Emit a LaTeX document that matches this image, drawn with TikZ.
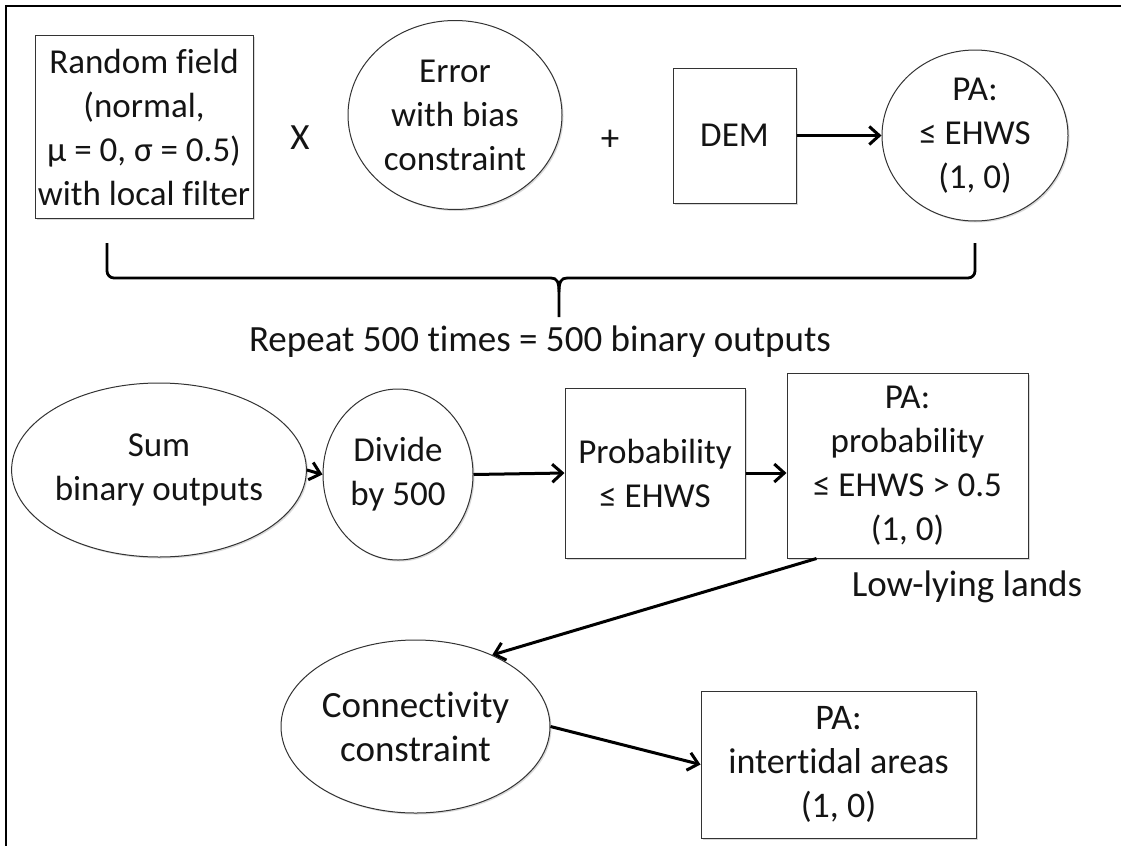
\documentclass[tikz,border=0pt]{standalone}
\usepackage{fontspec}
\setmainfont{Carlito}[Ligatures=NoCommon]
\usetikzlibrary{shapes.geometric,arrows.meta,shadows}

\tikzset{
  txt/.style={font=\fontsize{35}{44}\selectfont, text=black!92, align=center, inner sep=0pt},
  bigtxt/.style={txt, font=\fontsize{37}{44}\selectfont},
  shade/.style={drop shadow={shadow xshift=1.5pt, shadow yshift=-1.5pt, opacity=0.25, fill=black!60}},
  boxnode/.style={txt, rectangle, draw=black!80, line width=1pt, fill=white, shade},
  ovalnode/.style={txt, ellipse, draw=black!80, line width=1pt, fill=white, shade},
  flow/.style={line width=3pt, black, -{Straight Barb[length=10pt,width=18pt]}},
  bracket/.style={line width=2.8pt, black, rounded corners=7pt}
}

\begin{document}
\begin{tikzpicture}[x=1pt,y=-1pt]
  \useasboundingbox (0,0) rectangle (1121,846);

  % open frame: top and left edges only
  \draw[line width=2pt, black] (1121,6) -- (6,6) -- (6,846);

  % first row: one realisation
  \node[boxnode, minimum width=218pt, minimum height=183pt] (rf) at (144,127)
    {Random field\\(normal,\\μ = 0, σ = 0.5)\\with local filter};
  \node[bigtxt] (times) at (300,138) {X};
  \node[ovalnode, minimum width=214pt, minimum height=189pt] (err) at (455,115)
    {Error\\with bias\\constraint};
  \node[bigtxt] (plus) at (610,140) {+};
  \node[boxnode, minimum width=123pt, minimum height=135pt] (dem) at (734.5,135.5) {DEM};
  \node[ovalnode, minimum width=186pt, minimum height=171pt] (pa1) at (975,135.5)
    {PA:\\≤ EHWS\\(1, 0)};
  \draw[flow] (dem.east) -- (pa1.west);

  % bracket gathering the repetitions
  \coordinate (brL) at (107,243);
  \coordinate (brR) at (975,243);
  \coordinate (brTip) at (559,317);
  \draw[bracket] (brL) -- (107,278) -- (551,278);
  \draw[bracket] (brR) -- (975,278) -- (567,278);
  \draw[line width=2.8pt, black] (551,278) .. controls (557,278) and (559,282) .. (559,292) -- (brTip);
  \draw[line width=2.8pt, black] (567,278) .. controls (561,278) and (559,282) .. (559,292);
  \node[bigtxt] (repeat) at (540,342) {Repeat 500 times = 500 binary outputs};

  % second row: aggregation
  \node[ovalnode, minimum width=252pt, minimum height=174pt] (sum) at (159,470)
    {Sum\\binary outputs};
  \node[ovalnode, minimum width=150pt, minimum height=171pt] (div) at (398,474.5)
    {Divide\\by 500};
  \node[boxnode, minimum width=180pt, minimum height=170pt] (prob) at (655,473)
    {Probability\\≤ EHWS};
  \node[boxnode, minimum width=241pt, minimum height=185pt] (pa2) at (907.5,465.5)
    {PA:\\probability\\≤ EHWS > 0.5\\(1, 0)};
  \node[bigtxt] (low) at (967,587) {Low-lying lands};

  \draw[flow] (sum.east) -- (div.west);
  \draw[flow] (div.east) -- (prob.west);
  \draw[flow] (prob.east) -- (prob.east -| pa2.west);

  % third row: connectivity
  \node[ovalnode, font=\fontsize{37}{44}\selectfont, minimum width=269pt, minimum height=173pt] (conn) at (415.5,726.5)
    {Connectivity\\constraint};
  \node[boxnode, font=\fontsize{36}{44}\selectfont, minimum width=275pt, minimum height=147pt] (pa3) at (838.5,764.5)
    {PA:\\intertidal areas\\(1, 0)};

  \coordinate (pa2out) at ([xshift=30pt]pa2.south west);
  \draw[flow] (pa2out) -- (conn.43);
  \draw[flow] (conn.east) -- (pa3.west);
\end{tikzpicture}
\end{document}
